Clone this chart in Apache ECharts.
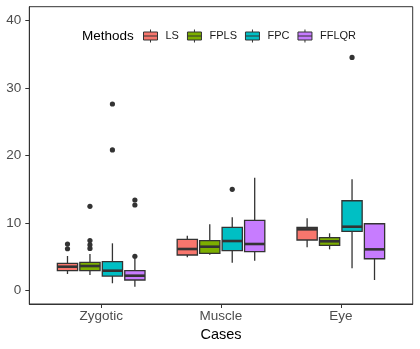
<!DOCTYPE html>
<html>
<head>
<meta charset="utf-8">
<script src="https://cdn.jsdelivr.net/npm/echarts@6/dist/echarts.min.js"></script>
<style>
  html, body { margin: 0; padding: 0; background: #fff; }
  #chart { width: 420px; height: 349px; }
</style>
</head>
<body>
<div id="chart"></div>
<script>
// categories and groups
const cases = ['Zygotic', 'Muscle', 'Eye'];
const methods = ['LS', 'FPLS', 'FPC', 'FFLQR'];
const colors = ['#F8766D', '#7CAE00', '#00BFC4', '#C77CFF'];
const yTicks = [0, 10, 20, 30, 40];

// box stats per case: [lower whisker, Q1, median, Q3, upper whisker]
const lsBox = [[2.44, 2.93, 3.52, 4.02, 5.1], [4.91, 5.25, 6.14, 7.57, 8.1], [6.39, 7.47, 9.05, 9.35, 10.68]];
const fplsBox = [[2.29, 2.93, 3.62, 4.17, 5.4], [5.3, 5.5, 6.48, 7.37, 9.79], [6.09, 6.69, 7.28, 7.81, 8.46]];
const fpcBox = [[1.07, 2.14, 2.93, 4.26, 6.98], [4.11, 5.89, 7.32, 9.35, 10.83], [3.28, 8.76, 9.44, 13.28, 16.45]];
const fflqrBox = [[0.56, 1.55, 2.19, 2.93, 4.7], [4.41, 5.74, 6.88, 10.38, 16.69], [1.55, 4.7, 6.09, 9.88, 9.88]];

// outliers: [case index, value]
const lsOut = [[0, 6.87], [0, 6.18]];
const fplsOut = [[0, 7.4], [0, 6.77], [0, 6.23], [0, 12.46]];
const fpcOut = [[0, 20.8], [0, 27.6], [1, 14.97], [2, 34.5]];
const fflqrOut = [[0, 13.39], [0, 12.65], [0, 5.05]];

const boxes = [lsBox, fplsBox, fpcBox, fflqrBox];
const outs = [lsOut, fplsOut, fpcOut, fflqrOut];

const dodge = 0.1875;   // 0.75 / 4
const boxW = 0.169;
const lineCol = '#333333';
const font = 'Liberation Sans';

function xPos(ci, mi) {
  return ci + 1 + (mi - 1.5) * dodge;
}

function boxRender(mi) {
  return function (params, api) {
    const ci = api.value(0);
    const xc = xPos(ci, mi);
    const lo = api.coord([xc, api.value(1)]);
    const q1 = api.coord([xc, api.value(2)]);
    const md = api.coord([xc, api.value(3)]);
    const q3 = api.coord([xc, api.value(4)]);
    const hi = api.coord([xc, api.value(5)]);
    const half = (api.coord([xc + boxW / 2, 0])[0] - lo[0]);
    const ls = { stroke: lineCol, lineWidth: 1.3 };
    return {
      type: 'group',
      children: [
        { type: 'line', shape: { x1: lo[0], y1: lo[1], x2: q1[0], y2: q1[1] }, style: ls },
        { type: 'line', shape: { x1: q3[0], y1: q3[1], x2: hi[0], y2: hi[1] }, style: ls },
        {
          type: 'rect',
          shape: { x: q1[0] - half, y: q3[1], width: half * 2, height: q1[1] - q3[1] },
          style: { fill: colors[mi], stroke: lineCol, lineWidth: 1.3 }
        },
        { type: 'line', shape: { x1: md[0] - half, y1: md[1], x2: md[0] + half, y2: md[1] }, style: { stroke: lineCol, lineWidth: 2.6 } }
      ]
    };
  };
}

function outRender(mi) {
  return function (params, api) {
    const p = api.coord([xPos(api.value(0), mi), api.value(1)]);
    return { type: 'circle', shape: { cx: p[0], cy: p[1], r: 2.6 }, style: { fill: lineCol } };
  };
}

const series = [];
methods.forEach(function (m, mi) {
  series.push({
    name: m,
    type: 'custom',
    renderItem: boxRender(mi),
    itemStyle: { color: colors[mi] },
    data: boxes[mi].map(function (b, ci) { return [ci].concat(b); }),
    z: 2
  });
  series.push({
    name: m,
    type: 'custom',
    renderItem: outRender(mi),
    itemStyle: { color: colors[mi] },
    data: outs[mi],
    z: 3
  });
});

const chart = echarts.init(document.getElementById('chart'));
chart.setOption({
  animation: false,
  textStyle: { fontFamily: font },
  title: {
    text: 'Methods',
    left: 77,
    top: 24,
    textStyle: { fontFamily: font, fontSize: 13.5, fontWeight: 'normal', color: '#000' }
  },
  legend: {
    data: methods,
    left: 138,
    top: 24,
    itemWidth: 14,
    itemHeight: 13,
    itemGap: 8,
    icon: 'path://M0 2.5H14V10.5H0Z M7 0V2.5 M7 10.5V13 M0 6.5H14',
    itemStyle: { borderColor: lineCol, borderWidth: 1 },
    textStyle: { fontFamily: font, fontSize: 11, color: '#1a1a1a', padding: [0, 0, 0, 3] }
  },
  grid: {
    left: 29.3,
    right: 7.3,
    top: 6.7,
    bottom: 45,
    show: true,
    borderColor: lineCol,
    borderWidth: 1,
    backgroundColor: '#fff'
  },
  xAxis: {
    type: 'value',
    min: 0.4,
    max: 3.6,
    name: 'Cases',
    nameLocation: 'middle',
    nameGap: 21,
    nameTextStyle: { fontFamily: font, fontSize: 14.5, color: '#000' },
    axisLine: { show: true, onZero: false, lineStyle: { color: lineCol, width: 1 } },
    axisTick: { show: true, length: 4, customValues: [1, 2, 3], lineStyle: { color: lineCol } },
    axisLabel: {
      customValues: [1, 2, 3],
      margin: 5,
      fontFamily: font,
      fontSize: 13.5,
      color: '#4D4D4D',
      formatter: function (v) { return cases[Math.round(v) - 1]; }
    },
    splitLine: { show: false }
  },
  yAxis: {
    type: 'value',
    min: -2,
    max: 42,
    axisLine: { show: true, onZero: false, lineStyle: { color: lineCol, width: 1 } },
    axisTick: { show: true, length: 4, customValues: yTicks, lineStyle: { color: lineCol } },
    axisLabel: {
      customValues: yTicks,
      margin: 8,
      fontFamily: font,
      fontSize: 13.5,
      color: '#4D4D4D'
    },
    splitLine: { show: false }
  },
  series: series
});
</script>
</body>
</html>
